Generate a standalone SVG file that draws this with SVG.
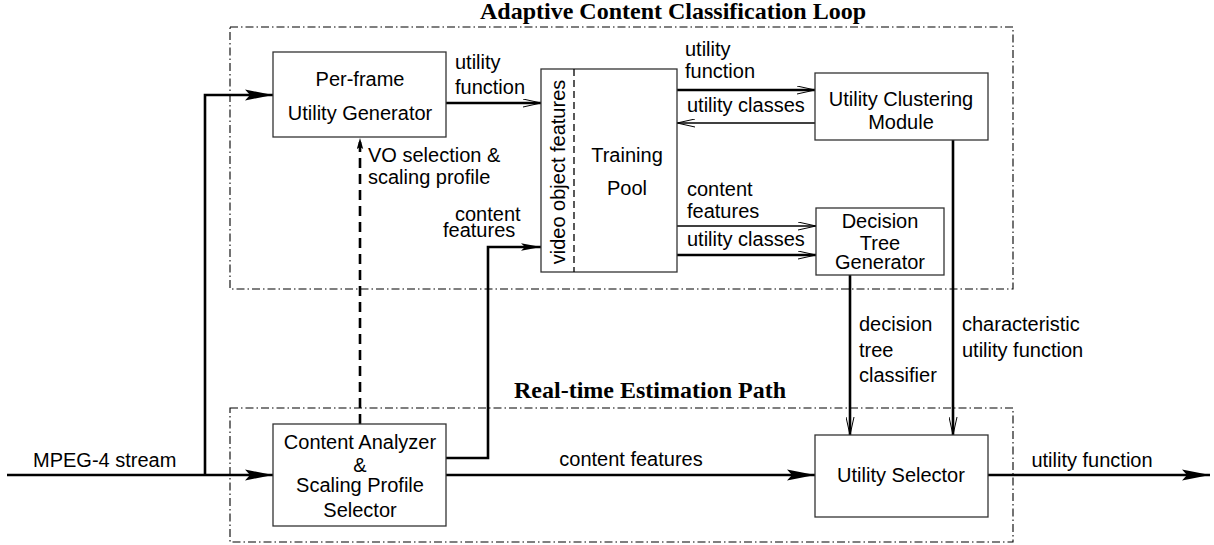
<svg xmlns="http://www.w3.org/2000/svg" width="1214" height="545" viewBox="0 0 1214 545">
  <style>
    text { font-family: "Liberation Sans", Arial, sans-serif; font-size: 20px; fill: #000; }
    .title { font-family: "Liberation Serif", "Times New Roman", serif; font-size: 24px; font-weight: bold; text-anchor: middle; }
    .mid { text-anchor: middle; }
    .box { fill: #fff; stroke: #333; stroke-width: 1.3; }
    .group { fill: none; stroke: #000; stroke-width: 1.1; stroke-dasharray: 8 3 1.5 3; }
    .thick { fill: none; stroke: #000; stroke-width: 2.6; }
    .thin { fill: none; stroke: #000; stroke-width: 1.3; }
    .dashed { fill: none; stroke: #000; stroke-width: 2.6; stroke-dasharray: 10 6; }
  </style>
  <defs>
    <marker id="bigHead" viewBox="0 0 28 12" refX="28" refY="6" markerWidth="28" markerHeight="12" markerUnits="userSpaceOnUse" orient="auto">
      <path d="M0,0.5 L28,6 L0,11.5 L5,6 Z" fill="#000"/>
    </marker>
    <marker id="midHead" viewBox="0 0 20 8" refX="20" refY="4" markerWidth="20" markerHeight="8" markerUnits="userSpaceOnUse" orient="auto">
      <path d="M0,0.3 L20,4 L0,7.7 L4,4 Z" fill="#000"/>
    </marker>
    <marker id="smallHead" viewBox="0 0 11 7" refX="11" refY="3.5" markerWidth="11" markerHeight="7" markerUnits="userSpaceOnUse" orient="auto">
      <path d="M0,0.3 L11,3.5 L0,6.7 L2,3.5 Z" fill="#000"/>
    </marker>
    <marker id="openHead" viewBox="0 0 18 9" refX="18" refY="4.5" markerWidth="18" markerHeight="9" markerUnits="userSpaceOnUse" orient="auto">
      <path d="M0,0.5 L18,4.5 L0,8.5" fill="none" stroke="#000" stroke-width="1"/>
    </marker>
  </defs>

  <!-- grouping frames -->
  <g id="adaptive-loop">
    <rect class="group" x="230" y="27" width="783" height="262"/>
    <text class="title" x="673" y="19">Adaptive Content Classification Loop</text>
  </g>
  <g id="realtime-path">
    <rect class="group" x="230" y="408" width="783" height="134"/>
    <text class="title" x="650" y="398">Real-time Estimation Path</text>
  </g>

  <!-- connectors -->
  <g id="connectors">
    <!-- input stream -->
    <line class="thick" x1="7" y1="475" x2="273" y2="475" marker-end="url(#bigHead)"/>
    <polyline class="thick" points="205,475 205,95 273,95" marker-end="url(#bigHead)"/>
    <text x="33" y="467">MPEG-4 stream</text>

    <!-- VO selection & scaling profile -->
    <line class="dashed" x1="360" y1="424" x2="360" y2="138" marker-end="url(#smallHead)"/>
    <text x="368" y="162">VO selection &amp;</text>
    <text x="368" y="184">scaling profile</text>

    <!-- per-frame utility function into pool -->
    <line class="thick" x1="446" y1="103" x2="541" y2="103" marker-end="url(#openHead)"/>
    <text x="455" y="69">utility</text>
    <text x="455" y="94">function</text>

    <!-- content features into pool -->
    <polyline class="thick" points="446,458 488,458 488,247 541,247" marker-end="url(#midHead)"/>
    <text x="455" y="221">content</text>
    <text x="443" y="237">features</text>

    <!-- pool <-> clustering -->
    <line class="thick" x1="677" y1="90" x2="815" y2="90" marker-end="url(#openHead)"/>
    <text x="685" y="56">utility</text>
    <text x="685" y="78">function</text>
    <line class="thin" x1="815" y1="123" x2="677" y2="123" marker-end="url(#openHead)"/>
    <text x="687" y="112">utility classes</text>

    <!-- pool -> decision tree generator -->
    <line class="thin" x1="677" y1="226" x2="816" y2="226" marker-end="url(#openHead)"/>
    <text x="687" y="196">content</text>
    <text x="687" y="218">features</text>
    <line class="thick" x1="677" y1="255" x2="816" y2="255" marker-end="url(#openHead)"/>
    <text x="687" y="246">utility classes</text>

    <!-- classifier and characteristic function down to selector -->
    <line class="thick" x1="850" y1="275" x2="850" y2="435" marker-end="url(#openHead)"/>
    <text x="859" y="331">decision</text>
    <text x="859" y="357">tree</text>
    <text x="859" y="382">classifier</text>
    <line class="thick" x1="953" y1="140" x2="953" y2="435" marker-end="url(#openHead)"/>
    <text x="962" y="331">characteristic</text>
    <text x="962" y="357">utility function</text>

    <!-- content features to selector -->
    <line class="thick" x1="446" y1="475" x2="815" y2="475" marker-end="url(#bigHead)"/>
    <text class="mid" x="631" y="466">content features</text>

    <!-- output -->
    <line class="thick" x1="988" y1="475" x2="1210" y2="475" marker-end="url(#bigHead)"/>
    <text class="mid" x="1092" y="467">utility function</text>
  </g>

  <!-- nodes -->
  <g id="per-frame-generator">
    <rect class="box" x="273" y="52" width="173" height="85"/>
    <text class="mid" x="360" y="86">Per-frame</text>
    <text class="mid" x="360" y="120">Utility Generator</text>
  </g>

  <g id="training-pool">
    <rect class="box" x="541" y="69" width="136" height="203"/>
    <line x1="574" y1="69" x2="574" y2="272" stroke="#000" stroke-width="1.3" stroke-dasharray="7 4"/>
    <text class="mid" transform="translate(565,172) rotate(-90)">video object features</text>
    <text class="mid" x="627" y="162">Training</text>
    <text class="mid" x="627" y="195">Pool</text>
  </g>

  <g id="utility-clustering">
    <rect class="box" x="815" y="73" width="173" height="67"/>
    <text class="mid" x="901" y="106">Utility Clustering</text>
    <text class="mid" x="901" y="129">Module</text>
  </g>

  <g id="decision-tree-generator">
    <rect class="box" x="816" y="208" width="128" height="67"/>
    <text class="mid" x="880" y="228">Decision</text>
    <text class="mid" x="880" y="250">Tree</text>
    <text class="mid" x="880" y="269">Generator</text>
  </g>

  <g id="content-analyzer">
    <rect class="box" x="273" y="424" width="173" height="102"/>
    <text class="mid" x="360" y="449">Content Analyzer</text>
    <text class="mid" x="360" y="472">&amp;</text>
    <text class="mid" x="360" y="492">Scaling Profile</text>
    <text class="mid" x="360" y="517">Selector</text>
  </g>

  <g id="utility-selector">
    <rect class="box" x="815" y="435" width="173" height="82"/>
    <text class="mid" x="901" y="482">Utility Selector</text>
  </g>
</svg>
